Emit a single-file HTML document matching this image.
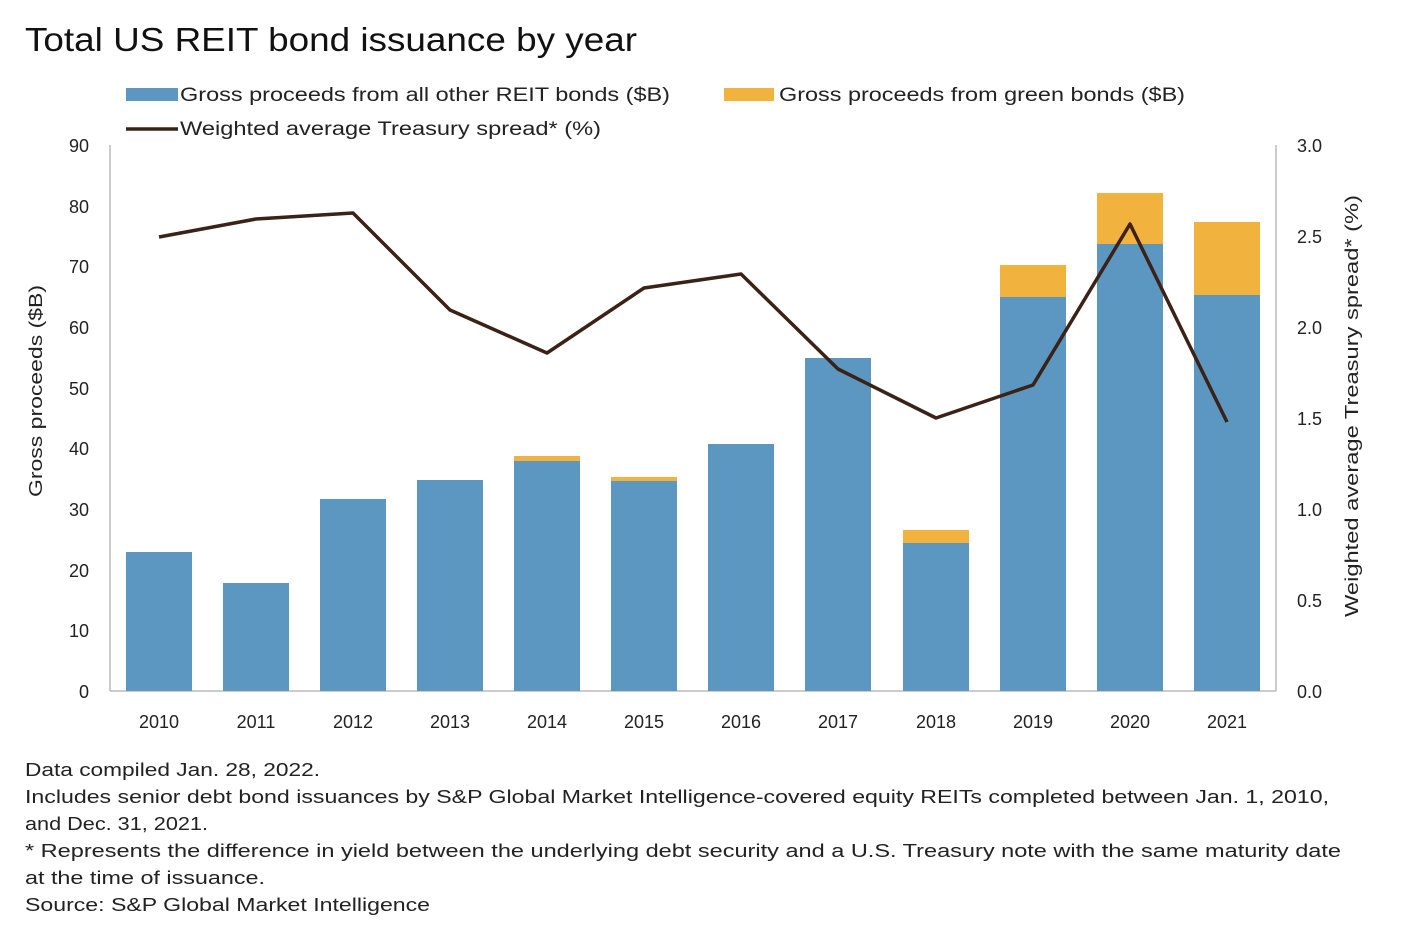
<!DOCTYPE html>
<html><head><meta charset="utf-8"><style>
html,body{margin:0;padding:0;background:#fff;}
svg{display:block;font-family:"Liberation Sans",sans-serif;}
</style></head><body>
<svg width="1414" height="938" viewBox="0 0 1414 938" xmlns="http://www.w3.org/2000/svg">
<rect width="1414" height="938" fill="#fff"/>
<text x="25" y="51" font-size="33" fill="#111" textLength="612" lengthAdjust="spacingAndGlyphs">Total US REIT bond issuance by year</text>
<rect x="126" y="88" width="52" height="13" fill="#5b97c0"/>
<text x="180" y="101" font-size="19" fill="#222" textLength="490" lengthAdjust="spacingAndGlyphs">Gross proceeds from all other REIT bonds ($B)</text>
<rect x="724" y="88" width="50" height="13" fill="#f2b23e"/>
<text x="779" y="101" font-size="19" fill="#222" textLength="406" lengthAdjust="spacingAndGlyphs">Gross proceeds from green bonds ($B)</text>
<line x1="126" y1="129" x2="178" y2="129" stroke="#3b2217" stroke-width="3.5"/>
<text x="180" y="135" font-size="19" fill="#222" textLength="421" lengthAdjust="spacingAndGlyphs">Weighted average Treasury spread* (%)</text>
<line x1="110" y1="145" x2="110" y2="691" stroke="#bbb" stroke-width="1.5"/>
<line x1="1276" y1="145" x2="1276" y2="691" stroke="#bbb" stroke-width="1.5"/>
<line x1="110" y1="691" x2="1276" y2="691" stroke="#bbb" stroke-width="1.5"/>
<g font-size="18" fill="#222" text-anchor="end">
<text x="89" y="152">90</text><text x="89" y="213">80</text><text x="89" y="273">70</text><text x="89" y="334">60</text><text x="89" y="395">50</text><text x="89" y="455">40</text><text x="89" y="516">30</text><text x="89" y="577">20</text><text x="89" y="637">10</text><text x="89" y="698">0</text>
</g>
<g font-size="18" fill="#222">
<text x="1297" y="152">3.0</text><text x="1297" y="243">2.5</text><text x="1297" y="334">2.0</text><text x="1297" y="425">1.5</text><text x="1297" y="516">1.0</text><text x="1297" y="607">0.5</text><text x="1297" y="698">0.0</text>
</g>
<text transform="translate(42,391) rotate(-90)" font-size="18" fill="#222" text-anchor="middle" textLength="212" lengthAdjust="spacingAndGlyphs">Gross proceeds ($B)</text>
<text transform="translate(1358,406) rotate(-90)" font-size="18" fill="#222" text-anchor="middle" textLength="422" lengthAdjust="spacingAndGlyphs">Weighted average Treasury spread* (%)</text>
<g fill="#5b97c0">
<rect x="126" y="552" width="66" height="139"/>
<rect x="223" y="583" width="66" height="108"/>
<rect x="320" y="499" width="66" height="192"/>
<rect x="417" y="480" width="66" height="211"/>
<rect x="514" y="461" width="66" height="230"/>
<rect x="611" y="481" width="66" height="210"/>
<rect x="708" y="444" width="66" height="247"/>
<rect x="805" y="358" width="66" height="333"/>
<rect x="903" y="543" width="66" height="148"/>
<rect x="1000" y="297" width="66" height="394"/>
<rect x="1097" y="244" width="66" height="447"/>
<rect x="1194" y="295" width="66" height="396"/>
</g>
<g fill="#f2b23e">
<rect x="514" y="456" width="66" height="5"/>
<rect x="611" y="477" width="66" height="4"/>
<rect x="903" y="530" width="66" height="13"/>
<rect x="1000" y="265" width="66" height="32"/>
<rect x="1097" y="193" width="66" height="51"/>
<rect x="1194" y="222" width="66" height="73"/>
</g>
<polyline fill="none" stroke="#3b2217" stroke-width="3.5" stroke-linejoin="round" points="159,237 256,219 353,213 450,310 547,353 644,288 741,274 838,369 936,418 1033,385 1130,224 1227,422"/>
<g font-size="18" fill="#222" text-anchor="middle">
<text x="159" y="728">2010</text><text x="256" y="728">2011</text><text x="353" y="728">2012</text><text x="450" y="728">2013</text><text x="547" y="728">2014</text><text x="644" y="728">2015</text><text x="741" y="728">2016</text><text x="838" y="728">2017</text><text x="936" y="728">2018</text><text x="1033" y="728">2019</text><text x="1130" y="728">2020</text><text x="1227" y="728">2021</text>
</g>
<g font-size="18" fill="#222">
<text x="25" y="776" textLength="295" lengthAdjust="spacingAndGlyphs">Data compiled Jan. 28, 2022.</text>
<text x="25" y="803" textLength="1304" lengthAdjust="spacingAndGlyphs">Includes senior debt bond issuances by S&amp;P Global Market Intelligence-covered equity REITs completed between Jan. 1, 2010,</text>
<text x="25" y="830" textLength="183" lengthAdjust="spacingAndGlyphs">and Dec. 31, 2021.</text>
<text x="25" y="857" textLength="1316" lengthAdjust="spacingAndGlyphs">* Represents the difference in yield between the underlying debt security and a U.S. Treasury note with the same maturity date</text>
<text x="25" y="884" textLength="240" lengthAdjust="spacingAndGlyphs">at the time of issuance.</text>
<text x="25" y="911" textLength="405" lengthAdjust="spacingAndGlyphs">Source: S&amp;P Global Market Intelligence</text>
</g>
</svg>
</body></html>
